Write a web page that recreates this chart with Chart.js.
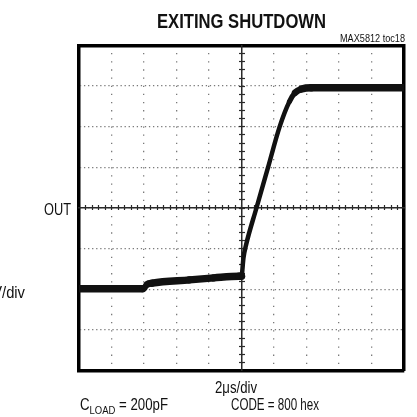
<!DOCTYPE html>
<html>
<head>
<meta charset="utf-8">
<script src="https://cdn.jsdelivr.net/npm/chart.js@4.4.1/dist/chart.umd.min.js"></script>
<style>
html,body{margin:0;padding:0;background:#fff;}
canvas{display:block;}
</style>
</head>
<body>
<canvas id="c" width="417" height="417"></canvas>
<script>
// ---- data (time in µs, output in vertical divisions) ----
const timeUs = [0, 3.9, 4.0, 4.2, 4.5, 6.8, 8.3, 9.85, 10.0, 10.12, 10.28, 10.92, 11.62, 12.34, 12.95, 13.3, 13.7, 14.3, 20];
const outDiv = [-1.99, -1.99, -1.97, -1.88, -1.85, -1.77, -1.72, -1.68, -1.68, -1.23, -0.91, 0, 0.98, 1.99, 2.62, 2.84, 2.93, 2.96, 2.96];
const xRange = [0, 20];      // 10 divisions x 2 µs/div
const yRange = [-4, 4];      // 8 divisions
const xMajorStep = 2;
const yMajorStep = 1;
const xMinorStep = 0.4;
const yMinorStep = 0.2;
const TITLE = 'EXITING SHUTDOWN';
const NOTE_ID = 'MAX5812 toc18';
const Y_MARK = 'OUT';
const Y_SCALE = '1V/div';
const X_SCALE = '2\u03BCs/div';
const COND_LEFT = ['C', 'LOAD', ' = 200pF'];
const COND_RIGHT = 'CODE = 800 hex';

const FONT = "'Liberation Sans', Arial, Helvetica, sans-serif";
const GRID = '#7a7a7a';
const CENTER = '#2a2a2a';

const points = timeUs.map((t, i) => ({x: t, y: outDiv[i]}));

// draw condensed text (the original uses Helvetica Condensed)
function condText(ctx, text, x, y, size, weight, width, align) {
  ctx.font = weight + ' ' + size + 'px ' + FONT;
  const w = ctx.measureText(text).width;
  ctx.save();
  ctx.translate(x, y);
  ctx.scale(width / w, 1);
  ctx.textAlign = align;
  ctx.fillText(text, 0, 0);
  ctx.restore();
}

const textPlugin = {
  id: 'scopeText',
  afterDraw(chart) {
    const ctx = chart.ctx;
    const a = chart.chartArea;
    const y0 = chart.scales.y.getPixelForValue(0);
    const xMid = (a.left + a.right) / 2;
    ctx.save();
    ctx.fillStyle = '#111';
    ctx.textBaseline = 'alphabetic';
    condText(ctx, TITLE, xMid, 28, 21, 'bold', 169, 'center');
    condText(ctx, NOTE_ID, a.right + 1, a.top - 4, 11, 'normal', 65, 'right');
    condText(ctx, Y_MARK, a.left - 8, y0 + 6.5, 17, 'normal', 27, 'right');
    condText(ctx, Y_SCALE, 25, 298, 17, 'normal', 41, 'right');
    condText(ctx, X_SCALE, 236, 393, 16, 'normal', 42, 'center');
    // C_LOAD = 200pF with subscript
    ctx.font = '16px ' + FONT;
    const w0 = ctx.measureText(COND_LEFT[0]).width;
    const w2 = ctx.measureText(COND_LEFT[2]).width;
    ctx.font = '11.5px ' + FONT;
    const w1 = ctx.measureText(COND_LEFT[1]).width;
    const k = 88 / (w0 + w1 + w2);
    ctx.save();
    ctx.translate(80, 410);
    ctx.scale(k, 1);
    ctx.textAlign = 'left';
    ctx.font = '16px ' + FONT;
    ctx.fillText(COND_LEFT[0], 0, 0);
    ctx.font = '11.5px ' + FONT;
    ctx.fillText(COND_LEFT[1], w0, 4);
    ctx.font = '16px ' + FONT;
    ctx.fillText(COND_LEFT[2], w0 + w1, 0);
    ctx.restore();
    condText(ctx, COND_RIGHT, 319, 410, 16, 'normal', 88, 'right');
    ctx.restore();
  }
};

const hidden = {display: false};

new Chart(document.getElementById('c'), {
  type: 'scatter',
  data: {
    datasets: [{
      label: 'OUT',
      data: points,
      showLine: true,
      pointRadius: 0,
      borderColor: '#111',
      borderWidth: 7,
      borderCapStyle: 'round',
      borderJoinStyle: 'round',
      cubicInterpolationMode: 'monotone',
      segment: {
        borderWidth: (c) => {
          const s = Math.abs(c.p1.y - c.p0.y) / Math.max(0.01, Math.abs(c.p1.x - c.p0.x));
          return 7.5 - 3 * Math.min(1, s / 2);
        }
      },
      xAxisID: 'x',
      yAxisID: 'y'
    }]
  },
  options: {
    responsive: false,
    animation: false,
    devicePixelRatio: 1,
    layout: {padding: {left: 79, right: 13, top: 45.5, bottom: 46.5}},
    plugins: {
      legend: hidden,
      tooltip: {enabled: false},
      title: hidden
    },
    scales: {
      x: {
        type: 'linear', axis: 'x', position: 'bottom',
        min: xRange[0], max: xRange[1],
        ticks: {display: false, stepSize: xMajorStep},
        grid: {color: GRID, lineWidth: 1.3, drawTicks: false},
        border: {display: true, color: '#000', width: 3.5, dash: [1.3, 6.85], dashOffset: 0.6}
      },
      y: {
        type: 'linear', axis: 'y', position: 'left',
        min: yRange[0], max: yRange[1],
        ticks: {display: false, stepSize: yMajorStep},
        grid: {color: GRID, lineWidth: 1.3, drawTicks: false},
        border: {display: true, color: '#000', width: 3.5, dash: [1.3, 2.76], dashOffset: 0.6}
      },
      xTop: {
        type: 'linear', axis: 'x', position: 'top',
        min: xRange[0], max: xRange[1],
        ticks: {display: false},
        grid: {drawOnChartArea: false, drawTicks: false},
        border: {display: true, color: '#000', width: 3.5}
      },
      yRight: {
        type: 'linear', axis: 'y', position: 'right',
        min: yRange[0], max: yRange[1],
        ticks: {display: false},
        grid: {drawOnChartArea: false, drawTicks: false},
        border: {display: true, color: '#000', width: 3.5}
      },
      xc: {
        type: 'linear', axis: 'x', position: {y: 0},
        min: xRange[0], max: xRange[1],
        ticks: {display: false},
        grid: {drawOnChartArea: false, drawTicks: false},
        border: {display: true, color: CENTER, width: 1.5}
      },
      xcTicks: {
        type: 'linear', axis: 'x', position: {y: 0.062},
        min: xRange[0], max: xRange[1],
        ticks: {display: false, stepSize: xMinorStep, maxTicksLimit: 1000, autoSkip: false},
        grid: {drawOnChartArea: false, drawTicks: true, tickLength: 5, tickWidth: 1.2, tickColor: CENTER},
        border: {display: false}
      },
      yc: {
        type: 'linear', axis: 'y', position: {x: 10},
        min: yRange[0], max: yRange[1],
        ticks: {display: false},
        grid: {drawOnChartArea: false, drawTicks: false},
        border: {display: true, color: CENTER, width: 1.5}
      },
      ycTicks: {
        type: 'linear', axis: 'y', position: {x: 10.185},
        min: yRange[0], max: yRange[1],
        ticks: {display: false, stepSize: yMinorStep, maxTicksLimit: 1000, autoSkip: false},
        grid: {drawOnChartArea: false, drawTicks: true, tickLength: 6, tickWidth: 1.2, tickColor: CENTER},
        border: {display: false}
      }
    }
  },
  plugins: [textPlugin]
});
</script>
</body>
</html>
